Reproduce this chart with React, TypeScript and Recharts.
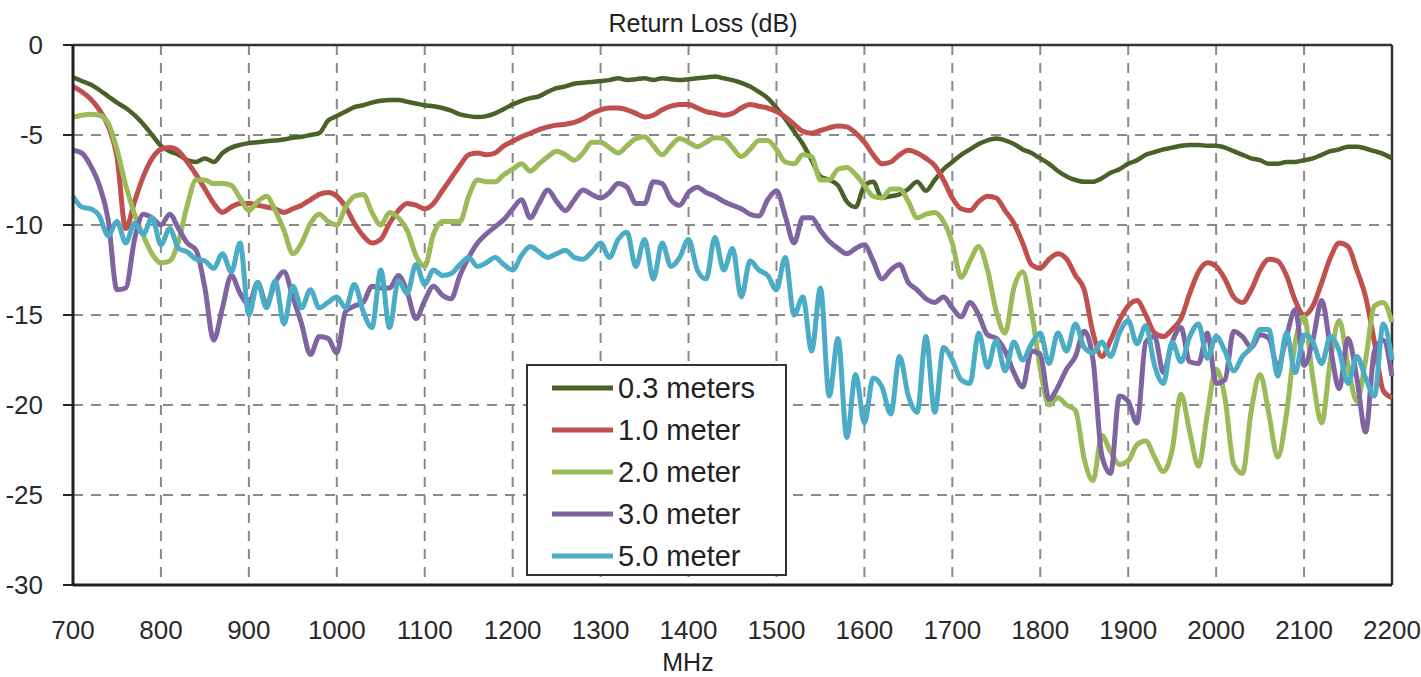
import {
  LineChart,
  Line,
  XAxis,
  YAxis,
  CartesianGrid,
  Legend,
  ReferenceLine,
} from "recharts";

// return loss (dB), one reading every 10 MHz from 700 to 2200 MHz
const freqStart = 700;
const freqStep = 10;

const m03 = [
  -1.8, -2.0, -2.2, -2.5, -2.85, -3.2, -3.5, -3.9, -4.4, -5.0,
  -5.6, -5.9, -6.1, -6.4, -6.5, -6.3, -6.5, -6.0, -5.7, -5.55,
  -5.45, -5.4, -5.35, -5.3, -5.25, -5.15, -5.1, -5.0, -4.9, -4.2,
  -3.95, -3.7, -3.45, -3.35, -3.2, -3.1, -3.05, -3.05, -3.15, -3.25,
  -3.35, -3.4, -3.5, -3.65, -3.85, -3.95, -4.0, -3.95, -3.8, -3.55,
  -3.3, -3.1, -2.95, -2.85, -2.6, -2.4, -2.3, -2.15, -2.1, -2.05,
  -2.0, -1.95, -1.85, -1.95, -1.9, -1.85, -1.95, -1.85, -1.9, -1.95,
  -1.9, -1.85, -1.8, -1.75, -1.85, -1.95, -2.1, -2.3, -2.6, -2.95,
  -3.5, -4.1, -4.8, -5.5, -6.4, -7.3, -7.5, -7.8, -8.7, -9.0,
  -7.8, -7.6, -8.5, -8.4, -8.3, -8.0, -7.6, -8.1, -7.5, -6.9,
  -6.5, -6.1, -5.8, -5.5, -5.3, -5.2, -5.3, -5.5, -5.8, -6.0,
  -6.3, -6.6, -7.0, -7.3, -7.5, -7.6, -7.6, -7.4, -7.1, -6.9,
  -6.6, -6.4, -6.1, -5.95, -5.8, -5.7, -5.6, -5.55, -5.55, -5.6,
  -5.6, -5.7, -5.9, -6.1, -6.3, -6.4, -6.6, -6.6, -6.5, -6.5,
  -6.4, -6.3, -6.1, -5.9, -5.8, -5.65, -5.65, -5.75, -5.9, -6.05,
  -6.3,
];

const m10 = [
  -2.3, -2.6, -3.0, -3.6, -4.5, -6.2, -10.2, -8.7, -7.3, -6.3,
  -5.8, -5.7, -5.9, -6.5, -7.2, -8.0, -8.8, -9.3, -9.0, -8.8,
  -8.8, -8.9, -9.0, -9.1, -9.3, -9.1, -8.9, -8.6, -8.3, -8.2,
  -8.4, -9.0, -9.9, -10.6, -11.0, -10.8, -9.9, -9.2, -8.8, -8.9,
  -9.1, -8.8, -8.1, -7.4, -6.7, -6.1, -6.0, -6.1, -6.0, -5.6,
  -5.35, -5.1, -4.9, -4.7, -4.55, -4.45, -4.4, -4.3, -4.1, -3.8,
  -3.6, -3.5, -3.5, -3.6, -3.8, -4.0, -3.9, -3.6, -3.4, -3.3,
  -3.3, -3.5, -3.7, -3.8, -3.9, -3.8, -3.5, -3.3, -3.4, -3.5,
  -3.7, -4.0, -4.4, -4.8, -4.9, -4.75, -4.6, -4.5, -4.55, -4.9,
  -5.4, -6.1, -6.6, -6.5, -6.1, -5.85, -6.0, -6.3, -6.7, -7.5,
  -8.5, -9.1, -9.2, -8.7, -8.4, -8.5, -9.2, -9.9, -11.0, -12.2,
  -12.4, -11.9, -11.6, -11.9, -12.8, -13.6, -16.0, -17.3, -16.4, -15.3,
  -14.5, -14.2, -15.0, -16.0, -16.2, -15.8, -15.2, -13.8, -12.6, -12.1,
  -12.3, -13.0, -14.0, -14.3, -13.6, -12.5, -11.9, -12.0, -12.8, -14.2,
  -15.0, -14.5, -13.2, -11.8, -11.0, -11.2, -12.5, -14.0, -16.5, -19.2,
  -19.6,
];

const m20 = [
  -4.0, -3.9, -3.85, -3.9, -4.35, -5.8, -7.8, -9.4, -10.6, -11.6,
  -12.1, -12.0, -10.9, -8.9, -7.5, -7.5, -7.7, -7.7, -7.8, -8.5,
  -9.2, -8.7, -8.4, -9.2, -10.3, -11.6, -11.0, -9.9, -9.4, -9.8,
  -10.0, -9.0, -8.4, -8.3, -9.3, -10.0, -9.3, -9.6, -10.3, -11.7,
  -12.3, -10.5, -9.8, -9.8, -9.8, -8.4, -7.5, -7.6, -7.6, -7.2,
  -6.9, -6.6, -7.0, -6.6, -6.2, -5.9, -6.1, -6.4, -6.0, -5.4,
  -5.4, -5.7, -6.0, -5.6, -5.2, -5.1, -5.6, -6.1, -5.6, -5.2,
  -5.4, -5.65, -5.4, -5.15, -5.2, -5.7, -6.2, -5.8, -5.3, -5.3,
  -5.8, -6.5, -6.6, -6.1, -6.2, -7.5, -7.5, -6.9, -6.8, -7.2,
  -7.8, -8.4, -8.5, -8.0, -8.0, -8.7, -9.6, -9.4, -9.3, -9.8,
  -11.0, -12.9, -12.0, -11.2, -12.5, -14.8, -16.0, -13.5, -12.6, -14.8,
  -18.0, -20.0, -19.6, -20.0, -20.3, -23.0, -24.2, -21.7, -22.6, -23.3,
  -23.1, -22.2, -22.0, -22.9, -23.7, -22.5, -19.4, -21.5, -23.4, -20.5,
  -18.0, -19.6, -23.3, -23.8, -20.3, -18.3, -20.5, -22.9, -20.5, -16.5,
  -15.1, -18.5, -21.0, -17.5, -15.3, -17.8, -19.8, -17.5, -14.5, -14.3,
  -15.4,
];

const m30 = [
  -5.85, -6.0, -6.7, -7.8, -9.7, -13.6, -13.5, -10.8, -9.4, -9.6,
  -10.0, -9.4, -10.2, -11.0, -11.4, -13.5, -16.4, -14.6, -12.8, -13.8,
  -14.4, -13.2, -14.4, -13.2, -12.6, -14.0, -15.5, -17.2, -16.2, -16.3,
  -17.1, -14.8, -14.5, -14.3, -13.4, -13.5, -13.5, -12.8, -13.7, -15.2,
  -14.2, -13.4, -13.9, -14.1, -12.8, -11.8, -11.0, -10.5, -10.1, -9.7,
  -9.1, -8.6, -9.6, -8.8, -8.05, -8.7, -9.2, -8.6, -8.05, -8.3,
  -8.5, -8.2, -7.7, -7.9, -8.8, -8.8, -7.6, -7.7, -8.6, -8.9,
  -8.2, -7.9, -8.2, -8.4, -8.7, -8.9, -9.1, -9.4, -9.5, -8.6,
  -8.1, -9.5, -11.0, -9.6, -9.6, -10.3, -10.9, -11.3, -11.6, -11.3,
  -11.1, -12.0, -13.0, -12.5, -12.2, -13.2, -13.6, -14.1, -14.3, -14.0,
  -14.6, -15.1, -14.3, -15.0, -16.1, -16.3, -17.0, -18.2, -19.0, -17.0,
  -17.2, -19.7, -19.0, -18.0, -17.3, -15.9, -17.5, -22.8, -23.8, -19.5,
  -19.8, -21.0, -16.5, -16.2, -18.2, -16.5, -15.7, -17.6, -17.7, -16.0,
  -18.8, -18.6, -15.9, -16.2, -16.8, -16.1, -16.3, -17.9, -16.2, -14.7,
  -17.8, -16.4, -14.2, -16.8, -19.1, -16.3, -18.5, -21.5, -17.0, -16.4,
  -18.4,
];

const m50 = [
  -8.4, -9.0, -9.1, -9.5, -10.6, -9.8, -11.0, -9.9, -10.5, -9.6,
  -11.1, -10.2, -11.3, -11.5, -11.9, -12.0, -12.4, -11.6, -12.6, -11.0,
  -15.0, -13.2, -14.6, -13.1, -15.5, -13.4, -14.6, -13.6, -14.6, -14.3,
  -14.0, -14.6, -13.3, -14.8, -15.7, -12.5, -15.7, -13.1, -13.8, -12.2,
  -13.3, -12.5, -12.8, -12.7, -12.2, -11.8, -12.3, -12.1, -11.8, -12.2,
  -12.5, -11.7, -11.2, -11.5, -11.8, -11.6, -11.4, -11.8, -11.9, -11.5,
  -11.0, -11.8, -10.8, -10.4, -12.3, -10.8, -13.0, -11.0, -12.3, -11.8,
  -10.8, -12.5, -13.0, -10.7, -12.5, -11.3, -14.0, -12.0, -12.5, -12.8,
  -13.6, -11.8, -15.0, -14.0, -17.0, -13.5, -19.5, -16.3, -21.8, -18.3,
  -21.0, -18.5, -19.0, -20.5, -17.3, -19.5, -20.4, -16.2, -20.4, -16.8,
  -17.5, -18.6, -18.8, -16.0, -17.9, -16.4, -18.1, -16.5, -17.5, -16.6,
  -16.0, -17.7, -16.0, -17.0, -15.5, -16.8, -17.1, -16.5, -17.3, -16.0,
  -15.3, -16.6, -15.6, -17.8, -18.8, -16.5, -17.6, -16.2, -15.5, -17.4,
  -16.2, -17.0, -18.1, -17.3, -16.8, -15.8, -15.8, -18.4, -16.0, -18.2,
  -16.1, -16.5, -17.7, -16.2, -17.0, -18.8, -17.3, -18.5, -19.5, -15.5,
  -17.5,
];

const xTicks = [700, 800, 900, 1000, 1100, 1200, 1300, 1400, 1500, 1600, 1700, 1800, 1900, 2000, 2100, 2200];
const yTicks = [-30, -25, -20, -15, -10, -5, 0];

const series = [
  { key: "m03", name: "0.3 meters", color: "#4A6127", values: m03 },
  { key: "m10", name: "1.0 meter", color: "#C0504D", values: m10 },
  { key: "m20", name: "2.0 meter", color: "#9BBB59", values: m20 },
  { key: "m30", name: "3.0 meter", color: "#8064A2", values: m30 },
  { key: "m50", name: "5.0 meter", color: "#4BACC6", values: m50 },
];

const data = m03.map((_, i) => {
  const row: Record<string, number> = { f: freqStart + i * freqStep };
  series.forEach((s) => {
    row[s.key] = s.values[i];
  });
  return row;
});

const font = "'Liberation Sans', Arial, sans-serif";

const renderLegend = () => (
  <div
    style={{
      width: 257,
      height: 208,
      border: "2px solid #333",
      background: "#fff",
      fontFamily: font,
    }}
  >
    {series.map((s, i) => (
      <div
        key={s.key}
        style={{
          display: "flex",
          alignItems: "center",
          height: 42,
          marginTop: i === 0 ? 1 : 0,
        }}
      >
        <svg width={66} height={10} style={{ marginLeft: 24 }}>
          <line x1={0} x2={61} y1={5} y2={5} stroke={s.color} strokeWidth={5} />
        </svg>
        <span style={{ fontSize: 29, color: "#222", lineHeight: "29px" }}>{s.name}</span>
      </div>
    ))}
  </div>
);

export default function App() {
  return (
    <div
      style={{
        position: "absolute",
        left: 0,
        top: 0,
        width: 1421,
        height: 677,
        background: "#fff",
        overflow: "hidden",
        fontFamily: font,
      }}
    >
      <div
        style={{
          position: "absolute",
          left: 503,
          width: 400,
          top: 11,
          textAlign: "center",
          fontSize: 25,
          lineHeight: "25px",
          color: "#222",
        }}
      >
        Return Loss (dB)
      </div>

      <LineChart
        width={1421}
        height={677}
        data={data}
        margin={{ top: 45, right: 29, bottom: 32, left: 13 }}
      >
        <CartesianGrid stroke="#8a8a8a" strokeWidth={2} strokeDasharray="10 8" />

        <XAxis
          dataKey="f"
          type="number"
          domain={[700, 2200]}
          ticks={xTicks}
          interval={0}
          height={60}
          tickLine={false}
          tickMargin={30}
          axisLine={{ stroke: "#222", strokeWidth: 3 }}
          tick={{ fontSize: 26, fill: "#2a2a2a", fontFamily: font }}
        />

        <YAxis
          type="number"
          domain={[-30, 0]}
          ticks={yTicks}
          interval={0}
          width={60}
          tickSize={10}
          tickMargin={20}
          tickLine={{ stroke: "#222", strokeWidth: 2 }}
          axisLine={{ stroke: "#222", strokeWidth: 3 }}
          tick={{ fontSize: 26, fill: "#2a2a2a", fontFamily: font }}
        />

        <ReferenceLine y={0} stroke="#333" strokeWidth={2.5} />
        <ReferenceLine x={2200} stroke="#333" strokeWidth={2.5} />

        <Legend
          layout="horizontal"
          verticalAlign="middle"
          align="center"
          content={renderLegend}
          wrapperStyle={{ left: 526, top: 364, width: 261, height: 212 }}
        />

        {series.map((s) => (
          <Line
            key={s.key}
            dataKey={s.key}
            name={s.name}
            type="monotone"
            stroke={s.color}
            strokeWidth={s.key === "m03" ? 4.5 : 5}
            dot={false}
            activeDot={false}
            isAnimationActive={false}
          />
        ))}
      </LineChart>

      <div
        style={{
          position: "absolute",
          left: 600,
          width: 176,
          top: 650,
          textAlign: "center",
          fontSize: 25,
          lineHeight: "25px",
          color: "#222",
        }}
      >
        MHz
      </div>
    </div>
  );
}
